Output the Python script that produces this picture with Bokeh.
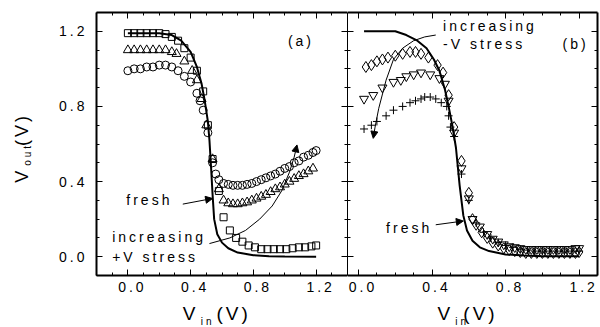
import math
from bokeh.plotting import figure
from bokeh.models import (LinearAxis, SingleIntervalTicker, Label, Arrow, NormalHead,
                          Range1d, CustomJSTickFormatter, PrintfTickFormatter)
from bokeh.layouts import row
from bokeh.embed import file_html
from bokeh.resources import INLINE

FONT = "Liberation Sans"

# ---------------- panel (a): +V stress ----------------
a_fresh_x = [0.00, 0.20, 0.28, 0.34, 0.40, 0.44, 0.47, 0.49, 0.51, 0.52, 0.53, 0.54, 0.55, 0.57,
             0.60, 0.64, 0.70, 0.80, 0.90, 1.00, 1.20]
a_fresh_y = [1.19, 1.19, 1.18, 1.15, 1.09, 1.01, 0.92, 0.83, 0.72, 0.62, 0.48, 0.33, 0.20, 0.12,
             0.075, 0.045, 0.022, 0.008, 0.003, 0.001, 0.0]

a_sq_x = [0.00, 0.04, 0.08, 0.12, 0.16, 0.20, 0.24, 0.28, 0.32, 0.36, 0.40, 0.44, 0.48, 0.51,
          0.54, 0.58, 0.61, 0.65, 0.69, 0.73, 0.77, 0.81, 0.85, 0.89, 0.93, 0.97, 1.01, 1.05,
          1.09, 1.13, 1.17, 1.20]
a_sq_y = [1.19, 1.19, 1.19, 1.19, 1.19, 1.19, 1.185, 1.17, 1.15, 1.11, 1.06, 0.99, 0.88, 0.70,
          0.52, 0.35, 0.21, 0.14, 0.10, 0.08, 0.06, 0.05, 0.04, 0.04, 0.04, 0.04, 0.04, 0.045,
          0.05, 0.05, 0.055, 0.06]

a_tr_x = [0.00, 0.04, 0.08, 0.12, 0.16, 0.20, 0.24, 0.28, 0.31, 0.36, 0.41, 0.44, 0.47, 0.50,
          0.54, 0.58, 0.61, 0.64, 0.67, 0.70, 0.73, 0.76, 0.79, 0.82, 0.85, 0.88, 0.91, 0.94,
          0.97, 1.00, 1.03, 1.06, 1.09, 1.12, 1.15, 1.18]
a_tr_y = [1.10, 1.10, 1.10, 1.10, 1.10, 1.10, 1.10, 1.09, 1.08, 1.04, 0.99, 0.94, 0.84, 0.70,
          0.52, 0.36, 0.30, 0.285, 0.28, 0.28, 0.285, 0.29, 0.30, 0.31, 0.32, 0.33, 0.345, 0.36,
          0.37, 0.385, 0.40, 0.415, 0.43, 0.44, 0.455, 0.47]

a_ci_x = [0.00, 0.04, 0.08, 0.12, 0.16, 0.20, 0.24, 0.28, 0.32, 0.36, 0.40, 0.44, 0.46, 0.48,
          0.51, 0.54, 0.56, 0.58, 0.61, 0.64, 0.67, 0.70, 0.73, 0.76, 0.79, 0.82, 0.85, 0.88,
          0.91, 0.94, 0.97, 1.00, 1.03, 1.06, 1.09, 1.12, 1.15, 1.18, 1.20]
a_ci_y = [0.99, 1.00, 1.00, 1.01, 1.01, 1.02, 1.02, 1.01, 0.99, 0.96, 0.93, 0.87, 0.83, 0.78,
          0.66, 0.50, 0.44, 0.41, 0.39, 0.385, 0.38, 0.38, 0.38, 0.385, 0.39, 0.40, 0.41, 0.42,
          0.43, 0.44, 0.455, 0.47, 0.48, 0.50, 0.51, 0.53, 0.54, 0.555, 0.565]

a_curve_x = [0.52, 0.65, 0.75, 0.84, 0.92, 0.98, 1.03, 1.06]
a_curve_y = [0.07, 0.10, 0.14, 0.20, 0.27, 0.35, 0.45, 0.53]

# ---------------- panel (b): -V stress ----------------
b_fresh_x = [0.03, 0.20, 0.26, 0.32, 0.37, 0.41, 0.44, 0.47, 0.49, 0.51, 0.53, 0.55, 0.57, 0.59,
             0.62, 0.66, 0.71, 0.80, 0.90, 1.00, 1.20]
b_fresh_y = [1.20, 1.20, 1.18, 1.15, 1.11, 1.05, 0.99, 0.89, 0.80, 0.70, 0.58, 0.38, 0.22, 0.14,
             0.085, 0.05, 0.03, 0.012, 0.006, 0.003, 0.002]

b_di_x = [0.04, 0.07, 0.10, 0.13, 0.16, 0.20, 0.24, 0.28, 0.31, 0.34, 0.38, 0.43, 0.46, 0.49,
          0.52, 0.56, 0.60, 0.62, 0.64, 0.67, 0.70, 0.73, 0.76, 0.79, 0.82, 0.85, 0.88, 0.91,
          0.94, 0.97, 1.00, 1.03, 1.06, 1.09, 1.12, 1.15, 1.18, 1.20]
b_di_y = [1.01, 1.02, 1.04, 1.05, 1.06, 1.07, 1.08, 1.09, 1.09, 1.08, 1.06, 1.02, 0.98, 0.86,
          0.69, 0.51, 0.34, 0.20, 0.17, 0.13, 0.10, 0.075, 0.06, 0.045, 0.035, 0.03, 0.025, 0.02,
          0.02, 0.02, 0.02, 0.02, 0.02, 0.02, 0.02, 0.02, 0.02, 0.025]

b_dt_x = [0.03, 0.08, 0.13, 0.19, 0.23, 0.26, 0.30, 0.34, 0.39, 0.44, 0.47, 0.49, 0.52, 0.56,
          0.60, 0.62, 0.66, 0.70, 0.73, 0.76, 0.79, 0.82, 0.85, 0.88, 0.91, 0.94, 0.97, 1.00,
          1.03, 1.06, 1.09, 1.12, 1.15, 1.18, 1.20]
b_dt_y = [0.84, 0.86, 0.90, 0.93, 0.94, 0.96, 0.97, 0.98, 0.97, 0.95, 0.92, 0.83, 0.66, 0.47,
          0.31, 0.20, 0.16, 0.12, 0.095, 0.08, 0.065, 0.055, 0.05, 0.045, 0.04, 0.04, 0.04, 0.04,
          0.04, 0.04, 0.04, 0.04, 0.04, 0.045, 0.045]

b_pl_x = [0.03, 0.07, 0.10, 0.15, 0.19, 0.24, 0.28, 0.31, 0.34, 0.36, 0.39, 0.42, 0.45, 0.48,
          0.49, 0.50, 0.52, 0.56, 0.60, 0.64, 0.68, 0.72, 0.76, 0.80, 0.84, 0.88, 0.92, 0.96,
          1.00, 1.04, 1.08, 1.12, 1.16, 1.20]
b_pl_y = [0.68, 0.70, 0.72, 0.75, 0.78, 0.80, 0.82, 0.83, 0.84, 0.85, 0.85, 0.84, 0.82, 0.80,
          0.75, 0.69, 0.64, 0.44, 0.30, 0.18, 0.13, 0.10, 0.075, 0.06, 0.05, 0.04, 0.035, 0.03,
          0.03, 0.03, 0.03, 0.03, 0.03, 0.03]

b_curve_x = [0.42, 0.36, 0.30, 0.24, 0.19, 0.15, 0.11, 0.09]
b_curve_y = [1.18, 1.17, 1.15, 1.11, 1.05, 0.94, 0.79, 0.69]

Y_RANGE = (-0.1, 1.3)
A_XRANGE = (-0.2, 1.4)
B_XRANGE = (-0.06, 1.3)


def make_fig(xr, fw, bl, br):
    p = figure(x_range=Range1d(*xr), y_range=Range1d(*Y_RANGE), frame_width=fw, frame_height=263,
               min_border_left=bl, min_border_right=br, min_border_top=12, min_border_bottom=50,
               output_backend="svg", toolbar_location=None,
               x_axis_location=None, y_axis_location=None)
    p.grid.visible = False
    p.outline_line_color = None
    p.background_fill_color = "white"
    p.border_fill_color = "white"
    return p


def add_axes(p, labels_left, labels_bottom, left_w, right_w):
    for side in ("left", "right", "above", "below"):
        ax = LinearAxis(ticker=SingleIntervalTicker(interval=0.4, num_minor_ticks=4))
        ax.major_tick_in = 6
        ax.major_tick_out = 0
        ax.minor_tick_in = 3
        ax.minor_tick_out = 0
        ax.major_tick_line_width = 1
        ax.minor_tick_line_width = 1
        ax.axis_line_color = "black"
        if side == "left":
            ax.axis_line_width = left_w
        elif side == "right":
            ax.axis_line_width = right_w
        else:
            ax.axis_line_width = 2
        show = (side == "left" and labels_left) or (side == "below" and labels_bottom)
        if show:
            ax.formatter = PrintfTickFormatter(format="%.1f")
            ax.major_label_text_font = FONT
            ax.major_label_text_font_size = "14px"
            ax.major_label_text_color = "black"
            ax.major_label_standoff = 18 if side == "left" else 6
        else:
            ax.formatter = CustomJSTickFormatter(code="return ''")
            ax.major_label_standoff = 0
            ax.major_label_text_font_size = "1px"
        p.add_layout(ax, side)


def lbl(p, x, y, text, size="14px", align="left", baseline="middle", angle=0.0, place="center"):
    lab = Label(x=x, y=y, text=text, text_font=FONT, text_font_size=size,
                text_align=align, text_baseline=baseline, angle=angle, text_color="black")
    p.add_layout(lab, place)


def head_arrow(p, xs, ys, xe, ye):
    p.add_layout(Arrow(end=NormalHead(size=7, fill_color="black", line_color="black", line_width=1),
                       x_start=xs, y_start=ys, x_end=xe, y_end=ye,
                       line_color="black", line_width=1))


# ---------- panel (a) ----------
pa = make_fig(A_XRANGE, 251, 96, 0)
add_axes(pa, True, True, 2, 1)
pa.line(a_fresh_x, a_fresh_y, line_color="black", line_width=2)
pa.scatter(a_ci_x, a_ci_y, marker="circle", size=8, fill_color=None, line_color="black")
pa.scatter(a_tr_x, a_tr_y, marker="triangle", size=9, fill_color=None, line_color="black")
pa.scatter(a_sq_x, a_sq_y, marker="square", size=7, fill_color=None, line_color="black")
pa.line(a_curve_x, a_curve_y, line_color="black", line_width=1)
head_arrow(pa, 1.06, 0.53, 1.078, 0.595)

lbl(pa, 1.02, 1.15, "(a)")
lbl(pa, -0.01, 0.30, "fresh")
head_arrow(pa, 0.35, 0.28, 0.54, 0.31)
lbl(pa, -0.10, 0.106, "increasing")
lbl(pa, -0.10, 0.0, "+V stress")

# axis titles (panel a), drawn in the side panels so they are not clipped by the frame
lbl(pa, 0.35, -0.30, "V", size="19px", baseline="alphabetic", place="below")
lbl(pa, 0.464, -0.345, "in", size="10px", baseline="alphabetic", place="below")
lbl(pa, 0.565, -0.30, "(V)", size="19px", baseline="alphabetic", place="below")

lbl(pa, -0.675, 0.394, "V", size="18px", baseline="alphabetic", angle=math.pi / 2, place="left")
lbl(pa, -0.64, 0.484, "out", size="10px", baseline="alphabetic", angle=math.pi / 2, place="left")
lbl(pa, -0.675, 0.59, "(V)", size="18px", baseline="alphabetic", angle=math.pi / 2, place="left")

# ---------- panel (b) ----------
pb = make_fig(B_XRANGE, 250, 0, 2)
add_axes(pb, False, True, 1, 2)
pb.line(b_fresh_x, b_fresh_y, line_color="black", line_width=2)
pb.scatter(b_di_x, b_di_y, marker="diamond", size=11, fill_color=None, line_color="black")
pb.scatter(b_dt_x, b_dt_y, marker="inverted_triangle", size=9, fill_color=None, line_color="black")
pb.scatter(b_pl_x, b_pl_y, marker="cross", size=8, line_color="black")
pb.line(b_curve_x, b_curve_y, line_color="black", line_width=1)
head_arrow(pb, 0.09, 0.69, 0.08, 0.63)

lbl(pb, 0.46, 1.23, "increasing")
lbl(pb, 0.46, 1.13, "-V stress")
lbl(pb, 1.11, 1.13, "(b)")
lbl(pb, 0.15, 0.155, "fresh")
head_arrow(pb, 0.42, 0.17, 0.57, 0.19)

lbl(pb, 0.43, -0.30, "V", size="19px", baseline="alphabetic", place="below")
lbl(pb, 0.526, -0.345, "in", size="10px", baseline="alphabetic", place="below")
lbl(pb, 0.57, -0.30, "(V)", size="19px", baseline="alphabetic", place="below")

layout = row(pa, pb)
layout.styles = {"letter-spacing": "3px"}

open("out.html", "w").write(file_html(layout, INLINE))
